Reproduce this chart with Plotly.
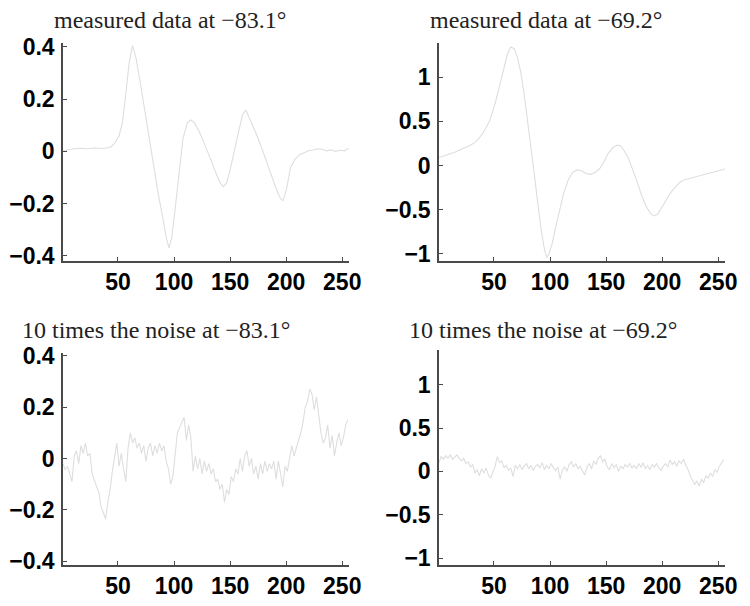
import plotly.graph_objects as go

# ---------------- data ----------------
meas83_x = [1, 8, 15, 22, 29, 36, 43, 47, 51, 54, 57, 60, 63, 66, 70, 74, 78, 82, 86, 90, 93, 95.5, 98, 101,
            104, 108, 112, 115, 118, 122, 126, 130, 134, 138, 141, 144, 147, 150, 154, 158, 161, 164, 167, 170,
            174, 178, 182, 186, 190, 194, 197, 200, 204, 208, 212, 216, 220, 224, 228, 232, 236, 240, 244, 248,
            252, 256]
meas83_y = [0.000, 0.008, 0.012, 0.010, 0.013, 0.011, 0.015, 0.030, 0.060, 0.110, 0.220, 0.340, 0.405, 0.360,
            0.260, 0.150, 0.045, -0.070, -0.165, -0.255, -0.330, -0.370, -0.330, -0.220, -0.110, 0.050, 0.110,
            0.120, 0.110, 0.080, 0.040, 0.000, -0.045, -0.090, -0.120, -0.135, -0.120, -0.070, 0.010, 0.090,
            0.140, 0.158, 0.130, 0.100, 0.060, 0.015, -0.035, -0.080, -0.130, -0.175, -0.190, -0.150, -0.060,
            -0.030, -0.012, -0.005, 0.002, 0.005, 0.010, 0.008, 0.002, 0.006, 0.000, 0.004, 0.002, 0.012]

meas69_x = [1, 8, 15, 22, 29, 34, 40, 46, 51, 55, 59, 62, 65, 68, 71, 74, 77, 80, 83, 86, 89, 92, 95, 97, 99,
            102, 105, 108, 112, 116, 120, 124, 128, 132, 136, 140, 144, 148, 152, 156, 160, 163, 166, 170, 174,
            178, 182, 186, 190, 193, 196, 200, 204, 208, 212, 216, 220, 226, 232, 238, 244, 250, 256]
meas69_y = [0.09, 0.12, 0.15, 0.19, 0.23, 0.27, 0.36, 0.50, 0.70, 0.90, 1.12, 1.26, 1.34, 1.32, 1.22, 1.05,
            0.80, 0.52, 0.22, -0.10, -0.42, -0.72, -0.95, -1.04, -1.00, -0.88, -0.70, -0.52, -0.32, -0.17,
            -0.08, -0.05, -0.06, -0.09, -0.10, -0.08, -0.04, 0.04, 0.14, 0.20, 0.23, 0.22, 0.17, 0.08, -0.05,
            -0.20, -0.35, -0.47, -0.55, -0.57, -0.55, -0.47, -0.38, -0.30, -0.24, -0.19, -0.16, -0.14, -0.12,
            -0.10, -0.08, -0.06, -0.04]

noise_x = list(range(1, 256, 2))
noise83_y = [-0.02, -0.045, -0.03, -0.06, -0.09, 0.01, 0.03, -0.02, 0.05, 0.02, 0.06, 0.01, 0.02, -0.06, -0.09,
             -0.11, -0.13, -0.19, -0.21, -0.235, -0.17, -0.12, -0.05, 0.01, 0.06, -0.03, 0.02, -0.04, -0.09,
             0.04, 0.10, 0.06, 0.08, 0.04, 0.06, 0.02, 0.05, -0.01, 0.04, 0.06, 0.01, 0.05, 0.02, 0.06, 0.03,
             0.05, -0.01, -0.04, -0.10, -0.07, 0.02, 0.10, 0.12, 0.14, 0.16, 0.07, 0.13, 0.08, -0.05, 0.01,
             -0.04, 0.00, -0.06, -0.01, -0.05, -0.02, -0.06, -0.04, -0.09, -0.08, -0.12, -0.10, -0.17, -0.12,
             -0.14, -0.07, -0.09, -0.04, -0.06, 0.00, -0.05, 0.01, 0.03, -0.03, 0.00, -0.06, -0.03, -0.08,
             -0.02, -0.06, -0.01, -0.05, -0.02, -0.04, -0.01, -0.08, -0.01, -0.06, -0.11, -0.03, -0.05, 0.00,
             0.05, 0.01, 0.04, 0.06, 0.10, 0.14, 0.20, 0.22, 0.27, 0.25, 0.19, 0.24, 0.17, 0.10, 0.06, 0.08,
             0.13, 0.04, 0.09, 0.01, 0.06, 0.10, 0.05, 0.08, 0.13, 0.15]
noise69_y = [0.10, 0.17, 0.14, 0.18, 0.15, 0.19, 0.14, 0.17, 0.19, 0.15, 0.12, 0.15, 0.09, 0.11, 0.05, 0.08,
             -0.02, 0.02, -0.05, 0.03, -0.02, 0.04, -0.04, -0.08, 0.00, 0.06, 0.17, 0.10, 0.12, 0.04, 0.07,
             0.01, 0.04, -0.06, 0.07, 0.03, 0.08, 0.02, 0.06, 0.09, 0.03, 0.07, 0.01, 0.06, 0.08, 0.04, 0.10,
             0.02, 0.07, 0.03, 0.09, 0.04, 0.01, 0.05, -0.09, 0.02, 0.05, 0.00, 0.08, 0.11, 0.05, 0.09, 0.03,
             0.06, 0.00, -0.04, 0.05, 0.09, 0.03, 0.12, 0.08, 0.15, 0.18, 0.11, 0.14, 0.05, 0.02, 0.09, 0.04,
             0.08, 0.00, 0.06, 0.03, 0.08, 0.05, 0.09, 0.04, 0.07, 0.03, 0.09, 0.05, 0.10, 0.03, 0.07, 0.02,
             0.08, 0.05, 0.09, 0.04, 0.01, 0.06, 0.09, 0.05, 0.13, 0.08, 0.11, 0.06, 0.12, 0.09, 0.14, 0.07,
             0.02, -0.05, -0.10, -0.15, -0.11, -0.17, -0.09, -0.13, -0.05, -0.08, -0.02, -0.06, 0.02, -0.01,
             0.06, 0.10, 0.14]

titles = ["measured data at \u221283.1\u00b0", "measured data at \u221269.2\u00b0",
          "10 times the noise at \u221283.1\u00b0", "10 times the noise at \u221269.2\u00b0"]
x_ticks = [50, 100, 150, 200, 250]
y_ticks_83 = [-0.4, -0.2, 0, 0.2, 0.4]
y_ticks_69 = [-1, -0.5, 0, 0.5, 1]

# ---------------- figure ----------------
OFF = 8                      # default body margin of the html page
W, H = 750 - 2 * OFF, 606 - 2 * OFF
line_col = "#dedede"
axis_col = "#4a4a4a"

fig = go.Figure()
series = [(meas83_x, meas83_y), (meas69_x, meas69_y), (noise_x, noise83_y), (noise_x, noise69_y)]
for i, (xs, ys) in enumerate(series):
    n = "" if i == 0 else str(i + 1)
    fig.add_trace(go.Scatter(x=xs, y=ys, mode="lines", line=dict(color=line_col, width=1.1),
                             xaxis="x" + n, yaxis="y" + n, showlegend=False, hoverinfo="skip"))

# screen pixel boxes: (left, right, top, bottom)
boxes = [(63, 349, 43, 261), (439, 725, 43, 261), (63, 349, 353, 565), (439, 725, 350, 565)]
yranges = [[-0.42, 0.415], [-1.08, 1.385], [-0.414, 0.41], [-1.08, 1.40]]
yticks = [y_ticks_83, y_ticks_69, y_ticks_83, y_ticks_69]

tickfont = dict(family="Liberation Sans, Arial, sans-serif", size=23, color="#000", weight="bold")
layout = {}
for i, (l, r, t, b) in enumerate(boxes):
    n = "" if i == 0 else str(i + 1)
    l, r, t, b = l - OFF, r - OFF, t - OFF, b - OFF
    layout["xaxis" + n] = dict(domain=[l / W, r / W], range=[1, 256], anchor="y" + n, automargin=False,
                               tickvals=x_ticks, ticks="inside", ticklen=4, tickcolor=axis_col,
                               showline=True, linecolor=axis_col, linewidth=1.5, showgrid=False,
                               zeroline=False, tickfont=tickfont, ticklabelstandoff=0)
    layout["yaxis" + n] = dict(domain=[1 - b / H, 1 - t / H], range=yranges[i], anchor="x" + n,
                               automargin=False, tickvals=yticks[i],
                               ticktext=[("%g" % v).replace("-", "\u2212") for v in yticks[i]],
                               ticks="inside", ticklen=4, tickcolor=axis_col,
                               showline=True, linecolor=axis_col, linewidth=1.5, showgrid=False,
                               zeroline=False, tickfont=tickfont, ticklabelstandoff=2)

title_pos = [(52, 20), (428, 20), (20, 330), (407, 330)]
annotations = []
for txt, (px, py) in zip(titles, title_pos):
    annotations.append(dict(text=txt, x=(px - OFF) / W, y=1 - (py - OFF) / H, xref="paper", yref="paper",
                            xanchor="left", yanchor="middle", showarrow=False,
                            font=dict(family="Liberation Serif, DejaVu Serif, serif", size=24, color="#222")))

fig.update_layout(width=W, height=H, margin=dict(l=0, r=0, t=0, b=0),
                  paper_bgcolor="white", plot_bgcolor="white", annotations=annotations, **layout)

fig.write_html("out.html")
